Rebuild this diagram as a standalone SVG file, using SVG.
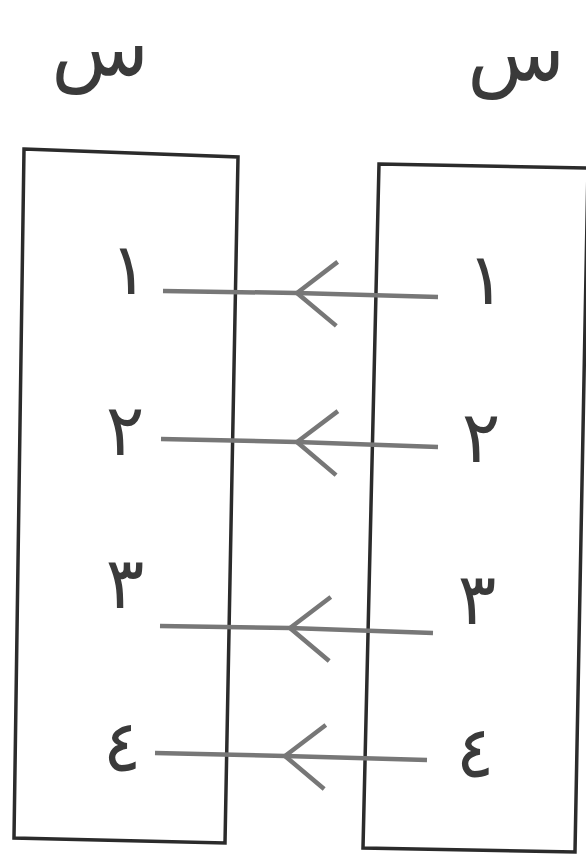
<svg xmlns="http://www.w3.org/2000/svg" width="586" height="858" viewBox="0 0 586 858">
<style>
.box{fill:none;stroke:#2b2b2b;stroke-width:3.5;stroke-linejoin:miter}
.lbl{font-family:"DejaVu Sans",sans-serif;fill:#3a3a3a;text-anchor:middle}
.set{font-size:80px}
.num{font-size:72px}
.conn{fill:none;stroke:#777;stroke-width:4.5}
</style>
<defs>
<marker id="chev" markerUnits="userSpaceOnUse" markerWidth="60" markerHeight="80" viewBox="-50 -40 60 80" refX="0" refY="0" orient="auto" overflow="visible">
<path d="M-40,-32 L0,0 L-40,32" fill="none" stroke="#777" stroke-width="4.5"/>
</marker>
</defs>
<rect width="586" height="858" fill="#fff"/>
<g id="set-left">
<polygon class="box" points="24,149 238,157 225,843 14,838"/>
<text class="lbl set" x="100" y="75">س</text>
</g>
<g id="set-right">
<polygon class="box" points="379,164 588,168 575,852 363,848"/>
<text class="lbl set" x="516" y="80">س</text>
</g>
<g id="left-1"><text class="lbl num" x="129" y="294">١</text></g>
<g id="left-2"><text class="lbl num" x="125" y="455">٢</text></g>
<g id="left-3"><text class="lbl num" x="125" y="608">٣</text></g>
<g id="left-4"><text class="lbl num" x="122" y="771">٤</text></g>
<g id="right-1"><text class="lbl num" x="486" y="304">١</text></g>
<g id="right-2"><text class="lbl num" x="481" y="462">٢</text></g>
<g id="right-3"><text class="lbl num" x="477" y="624">٣</text></g>
<g id="right-4"><text class="lbl num" x="475" y="777">٤</text></g>
<g id="connectors">
<path class="conn" marker-mid="url(#chev)" d="M438,297 L297,293 L163,291"/>
<path class="conn" marker-mid="url(#chev)" d="M438,447 L297,442 L161,439"/>
<path class="conn" marker-mid="url(#chev)" d="M433,633 L290,628 L160,626"/>
<path class="conn" marker-mid="url(#chev)" d="M427,760 L285,756 L155,753"/>
</g>
</svg>
